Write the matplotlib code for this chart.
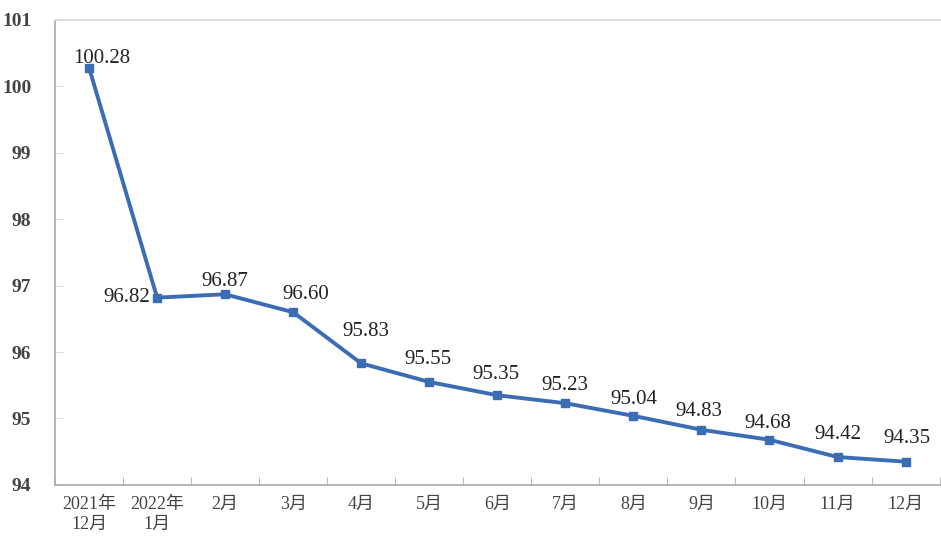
import numpy as np
import matplotlib.pyplot as plt

plt.rcParams['font.family'] = ['Liberation Serif', 'Noto Sans CJK SC', 'DejaVu Sans']

# 数据
months = ['2021年\n12月', '2022年\n1月', '2月', '3月', '4月', '5月', '6月',
          '7月', '8月', '9月', '10月', '11月', '12月']
values = [100.28, 96.82, 96.87, 96.60, 95.83, 95.55, 95.35,
          95.23, 95.04, 94.83, 94.68, 94.42, 94.35]
yticks = [94, 95, 96, 97, 98, 99, 100, 101]

# 标签偏移 (points)
label_dx = [9, -5, 0, 9, 3, -1, -1, 0, 0, -2, -1, 0, 1]
label_dy = [7, 0, 9, 13, 23, 16, 15, 13, 12, 13, 12, 16, 17]

fig = plt.figure(figsize=(9.41, 5.4), dpi=100)
ax = fig.add_axes([0.0585, 0.102, 0.94, 0.861])

x = np.arange(len(values))
line_color = '#3b6db4'
ax.plot(x, values, color=line_color, linewidth=2.8, marker='s', markersize=6,
        markerfacecolor=line_color, markeredgecolor=line_color)

for i, v in enumerate(values):
    ha = 'right' if i == 1 else 'center'
    ax.annotate(f'{v:.2f}', (x[i], v), xytext=(label_dx[i], label_dy[i]),
                textcoords='offset points', ha=ha, va='center',
                fontsize=15, color='#222222')

ax.set_xlim(-0.5, len(values) - 0.5)
ax.set_ylim(94, 101)
ax.set_yticks(yticks)
ax.set_yticklabels([str(t) for t in yticks], fontsize=14, color='#444444',
                   fontweight='bold')

# 分类轴: 刻度在分类之间
ax.set_xticks(np.arange(-0.5, len(values) + 0.5, 1))
ax.set_xticklabels([])
ax.set_xticks(x, minor=True)
ax.set_xticklabels(months, minor=True, fontsize=13, color='#444444')
ax.tick_params(axis='x', which='major', direction='in', length=6, color='#bbbbbb')
ax.tick_params(axis='x', which='minor', length=0, pad=8)
ax.tick_params(axis='y', direction='in', length=6, color='#dddddd', pad=17)

for s in ['left', 'bottom']:
    ax.spines[s].set_color('#aaaaaa')
    ax.spines[s].set_linewidth(1.2)
ax.spines['top'].set_color('#dddddd')
ax.spines['top'].set_linewidth(1.5)
ax.spines['right'].set_visible(False)

plt.savefig('out.png', dpi=100)
